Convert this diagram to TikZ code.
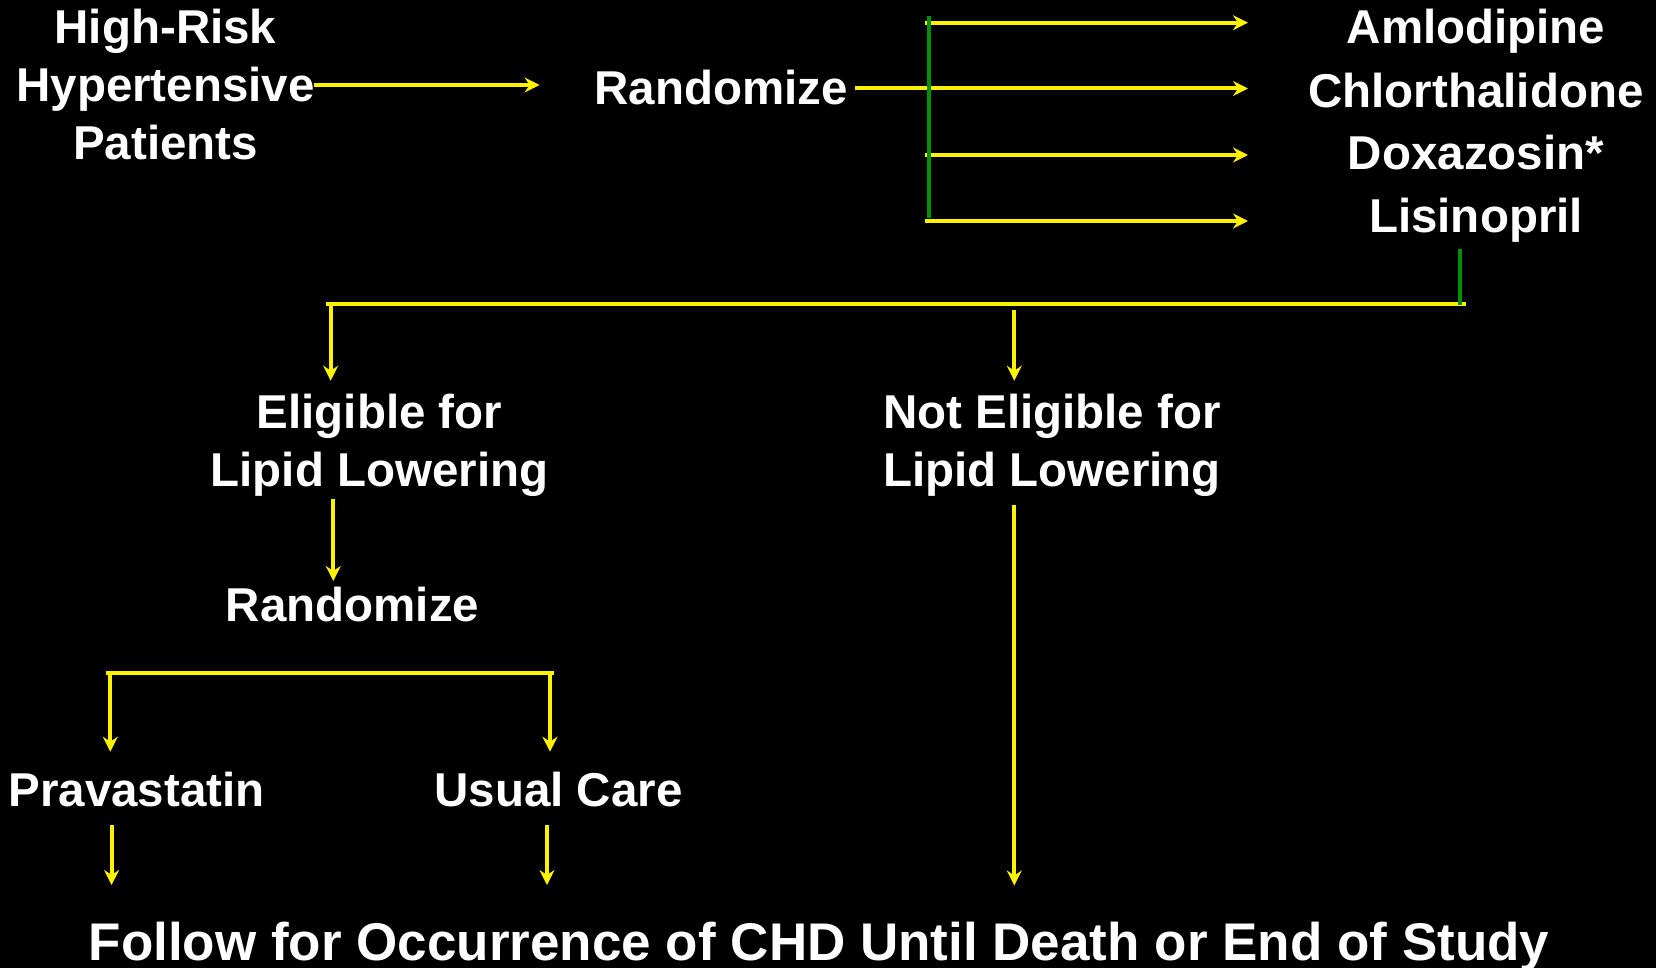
\documentclass[tikz,border=0pt]{standalone}
\usepackage{fontspec}
\setmainfont{Liberation Sans}
\usetikzlibrary{arrows.meta}
\definecolor{armgreen}{RGB}{0,145,0}
\tikzset{
	flow/.style={draw=yellow, line width=2pt, -{Stealth[length=7.5pt,width=7.5pt,inset=2.5pt]}},
	bar/.style={draw=yellow, line width=2pt},
	gbar/.style={draw=armgreen, line width=2pt},
	lbl/.style={text=white, font=\fontsize{23.75}{29}\selectfont\bfseries, anchor=base, align=center, inner sep=0pt},
}
\begin{document}
\begin{tikzpicture}[x=0.5pt,y=-0.5pt]
	\fill[black] (0,0) rectangle (1656,968);
	\useasboundingbox (0,0) rectangle (1656,968);
	\node[lbl] (hrp) at (165.5,159.3) {High-Risk\\Hypertensive\\Patients};
	\node[lbl] (rand) at (721,105) {Randomize};
	\node[lbl] (amlo) at (1476,44) {Amlodipine};
	\node[lbl] (chlor) at (1476,107.3) {Chlorthalidone};
	\node[lbl] (doxa) at (1476,170) {Doxazosin*};
	\node[lbl] (lisi) at (1476,233) {Lisinopril};
	\node[lbl] (elig) at (379.5,486.7) {Eligible for\\Lipid Lowering};
	\node[lbl] (nelig) at (1052,486.7) {Not Eligible for\\Lipid Lowering};
	\node[lbl] (randl) at (352.5,621.7) {Randomize};
	\node[lbl] (prava) at (136.6,806.7) {Pravastatin};
	\node[lbl] (usual) at (558.5,806.7) {Usual Care};
	\node[lbl, font=\fontsize{26.5}{32}\selectfont\bfseries] (follow) at (819,960) {Follow for Occurrence of CHD Until Death or End of Study};
	% first randomisation
	\coordinate (hrp-out) at (314,85);
	\coordinate (rand-in) at (539.6,85);
	\draw[flow] (hrp-out) to (rand-in);
	\coordinate (rand-out) at (854.6,88.5);
	\coordinate (T1) at (924.6,22.7);
	\coordinate (T3) at (924.6,155);
	\coordinate (T4) at (924.6,221);
	\draw[flow] (rand-out) to (rand-out -| 1248,0);
	\foreach \t in {T1,T3,T4}
		\draw[flow] (\t) to (\t -| 1248,0);
	\draw[gbar] (929,16) to (929,218);
	% split by lipid eligibility
	\coordinate (L) at (325.7,304.3);
	\coordinate (R) at (1465.6,304.3);
	\draw[bar] (L) to (R);
	\draw[gbar] (1460,249) to (1460,305);
	\coordinate (E) at (330.7,304.3);
	\coordinate (N) at (1014.3,310);
	\draw[flow] (E) to (330.7,380.7);
	\draw[flow] (N) to (1014.3,380.7);
	\coordinate (elig-out) at (333.3,499.3);
	\draw[flow] (elig-out) to (333.3,581);
	\coordinate (nelig-out) at (1014.3,505);
	\draw[flow] (nelig-out) to (1014.3,885.5);
	% second randomisation
	\coordinate (LL) at (105.8,672.7);
	\coordinate (LR) at (553.6,672.7);
	\draw[bar] (LL) to (LR);
	\draw[flow] (110.3,672.7) to (110.3,751.7);
	\draw[flow] (550,672.7) to (550,751.7);
	\coordinate (prava-out) at (111.6,825);
	\coordinate (usual-out) at (547,825);
	\draw[flow] (prava-out) to (111.6,885);
	\draw[flow] (usual-out) to (547,885);
\end{tikzpicture}
\end{document}
